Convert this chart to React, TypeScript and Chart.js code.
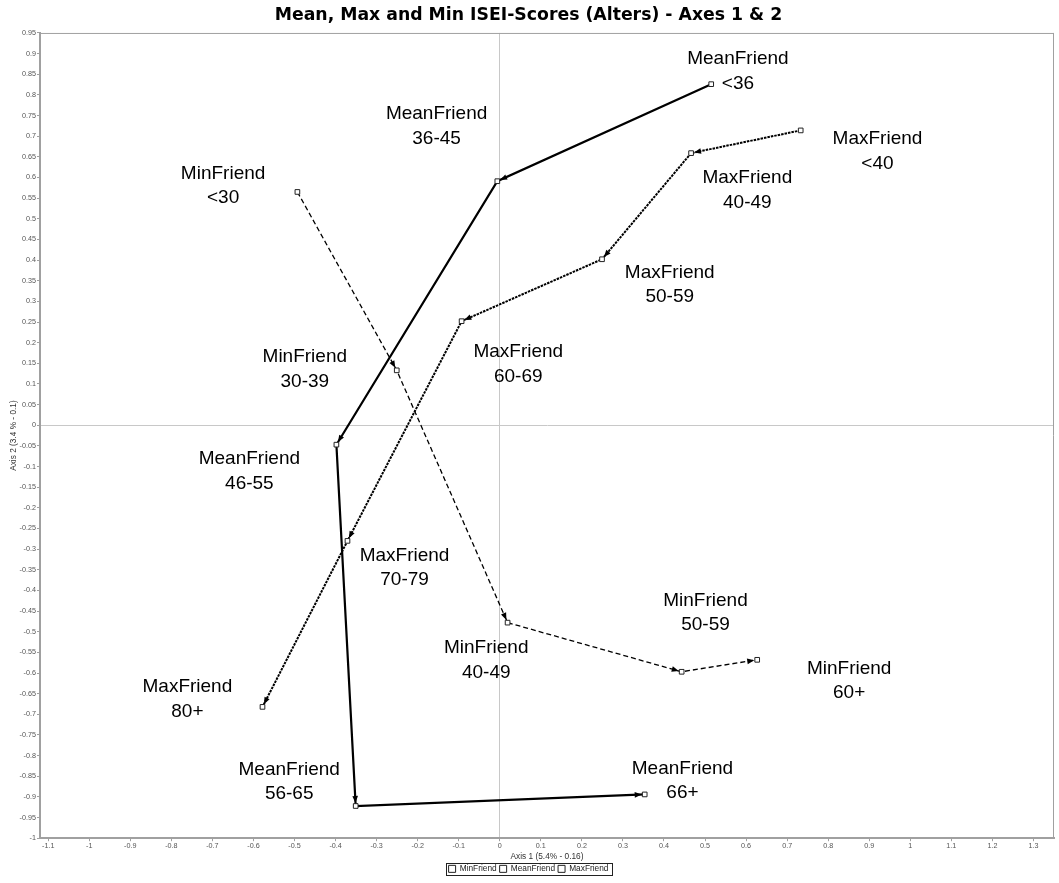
import React, { useEffect, useRef } from 'react';
import { Chart, registerables } from 'chart.js';

Chart.register(...registerables);

const TITLE = 'Mean, Max and Min ISEI-Scores (Alters) - Axes 1 & 2';
const X_TITLE = 'Axis 1 (5.4% - 0.16)';
const Y_TITLE = 'Axis 2 (3.4 % - 0.1)';

const SERIES = ['MinFriend', 'MeanFriend', 'MaxFriend'];

const MIN_CATEGORIES = ['<30', '30-39', '40-49', '50-59', '60+'];
const MIN_X = [-0.493, -0.251, 0.019, 0.443, 0.627];
const MIN_Y = [0.565, 0.133, -0.478, -0.597, -0.568];

const MEAN_CATEGORIES = ['<36', '36-45', '46-55', '56-65', '66+'];
const MEAN_X = [0.515, -0.006, -0.398, -0.351, 0.353];
const MEAN_Y = [0.826, 0.591, -0.047, -0.922, -0.894];

const MAX_CATEGORIES = ['<40', '40-49', '50-59', '60-69', '70-79', '80+'];
const MAX_X = [0.733, 0.466, 0.249, -0.093, -0.371, -0.578];
const MAX_Y = [0.714, 0.659, 0.402, 0.252, -0.28, -0.682];

// where each point's two-line label sits (data coordinates of the label centre)
const MIN_LABEL_POS = [[-0.674, 0.58], [-0.475, 0.135], [-0.033, -0.569], [0.501, -0.454], [0.851, -0.619]];
const MEAN_LABEL_POS = [[0.58, 0.857], [-0.154, 0.724], [-0.61, -0.112], [-0.513, -0.863], [0.445, -0.861]];
const MAX_LABEL_POS = [[0.92, 0.663], [0.603, 0.569], [0.414, 0.34], [0.045, 0.148], [-0.232, -0.345], [-0.761, -0.663]];

const X_TICKS = [-1.1, -1, -0.9, -0.8, -0.7, -0.6, -0.5, -0.4, -0.3, -0.2, -0.1, 0, 0.1, 0.2, 0.3, 0.4, 0.5, 0.6, 0.7, 0.8, 0.9, 1, 1.1, 1.2, 1.3];
const X_MIN = -1.12;
const X_MAX = 1.35;
const Y_MIN = -1;
const Y_MAX = 0.95;
const Y_STEP = 0.05;

const GROUPS = [
  { name: SERIES[0], cats: MIN_CATEGORIES, xs: MIN_X, ys: MIN_Y, labelPos: MIN_LABEL_POS, dash: [5, 3], width: 1.3 },
  { name: SERIES[1], cats: MEAN_CATEGORIES, xs: MEAN_X, ys: MEAN_Y, labelPos: MEAN_LABEL_POS, dash: [], width: 2.2 },
  { name: SERIES[2], cats: MAX_CATEGORIES, xs: MAX_X, ys: MAX_Y, labelPos: MAX_LABEL_POS, dash: [2.5, 1], width: 2 },
];

const FONT = '"Liberation Sans", Arial, sans-serif';
const AXIS_GREY = '#a0a0a0';

const fmt = (v: number) => String(Math.round(v * 100) / 100);

const arrowPlugin = {
  id: 'arrows',
  afterDatasetsDraw(chart: any) {
    const { ctx } = chart;
    ctx.save();
    ctx.fillStyle = '#000';
    chart.data.datasets.forEach((_: any, di: number) => {
      const meta = chart.getDatasetMeta(di);
      const pts = meta.data;
      for (let i = 1; i < pts.length; i++) {
        const a = pts[i - 1];
        const b = pts[i];
        const ang = Math.atan2(b.y - a.y, b.x - a.x);
        const tipX = b.x - Math.cos(ang) * 3;
        const tipY = b.y - Math.sin(ang) * 3;
        const len = 7;
        const half = 2.8;
        const bx = tipX - Math.cos(ang) * len;
        const by = tipY - Math.sin(ang) * len;
        ctx.beginPath();
        ctx.moveTo(tipX, tipY);
        ctx.lineTo(bx - Math.sin(ang) * half, by + Math.cos(ang) * half);
        ctx.lineTo(bx + Math.sin(ang) * half, by - Math.cos(ang) * half);
        ctx.closePath();
        ctx.fill();
      }
    });
    ctx.restore();
  },
};

const labelPlugin = {
  id: 'pointLabels',
  afterDatasetsDraw(chart: any) {
    const { ctx } = chart;
    const xs = chart.scales.x;
    const ys = chart.scales.y;
    ctx.save();
    ctx.font = `19px ${FONT}`;
    ctx.fillStyle = '#000';
    ctx.textAlign = 'center';
    ctx.textBaseline = 'middle';
    GROUPS.forEach((g) => {
      g.cats.forEach((c, i) => {
        const px = xs.getPixelForValue(g.labelPos[i][0]);
        const py = ys.getPixelForValue(g.labelPos[i][1]);
        ctx.fillText(g.name, px, py - 12.3);
        ctx.fillText(c, px, py + 12.3);
      });
    });
    ctx.restore();
  },
};

const framePlugin = {
  id: 'frame',
  afterDraw(chart: any) {
    const { ctx, chartArea } = chart;
    ctx.save();
    ctx.strokeStyle = AXIS_GREY;
    ctx.lineWidth = 1;
    ctx.beginPath();
    ctx.moveTo(chartArea.left, chartArea.top + 0.5);
    ctx.lineTo(chartArea.right, chartArea.top + 0.5);
    ctx.moveTo(chartArea.right - 0.5, chartArea.top);
    ctx.lineTo(chartArea.right - 0.5, chartArea.bottom);
    ctx.stroke();
    const lg = chart.legend;
    if (lg && lg.legendHitBoxes && lg.legendHitBoxes.length) {
      const hb = lg.legendHitBoxes;
      const l = Math.min(...hb.map((h: any) => h.left));
      const r = Math.max(...hb.map((h: any) => h.left + h.width));
      const t = Math.min(...hb.map((h: any) => h.top));
      const b = Math.max(...hb.map((h: any) => h.top + h.height));
      ctx.strokeStyle = '#222';
      ctx.lineWidth = 1;
      ctx.strokeRect(Math.round(l - 3) + 0.5, Math.round(t - 2) + 0.5, Math.round(r - l + 6), Math.round(b - t + 4));
    }
    ctx.restore();
  },
};

export default function App() {
  const ref = useRef<HTMLCanvasElement | null>(null);

  useEffect(() => {
    document.body.style.margin = '0';
    const canvas = ref.current;
    if (!canvas) return;
    const chart = new Chart(canvas, {
      type: 'scatter',
      data: {
        datasets: GROUPS.map((g) => ({
          label: g.name,
          data: g.xs.map((x, i) => ({ x, y: g.ys[i] })),
          showLine: true,
          borderColor: '#000',
          borderWidth: g.width,
          borderDash: g.dash,
          backgroundColor: '#fff',
          pointStyle: 'rect',
          pointRadius: 3.3,
          pointBorderColor: '#222',
          pointBorderWidth: 1,
          pointBackgroundColor: '#fff',
          tension: 0,
        })),
      },
      options: {
        responsive: false,
        animation: false,
        devicePixelRatio: 1,
        layout: { padding: { left: 0, right: 2, top: 0, bottom: 0 } },
        plugins: {
          title: {
            display: true,
            text: TITLE,
            color: '#000',
            font: { family: '"DejaVu Sans", sans-serif', size: 17.3, weight: 'bold' },
            padding: { top: 5, bottom: 7.2 },
          },
          legend: {
            display: true,
            position: 'bottom',
            labels: {
              color: '#222',
              font: { family: FONT, size: 8.3 },
              boxWidth: 7,
              boxHeight: 7,
              padding: 3,
              generateLabels: (c: any) =>
                Chart.defaults.plugins.legend.labels.generateLabels(c).map((l: any) => ({
                  ...l,
                  fillStyle: '#fff',
                  strokeStyle: '#222',
                  lineWidth: 1,
                  lineDash: [],
                })),
            },
          },
          tooltip: { enabled: false },
        },
        scales: {
          x: {
            type: 'linear',
            position: 'bottom',
            min: X_MIN,
            max: X_MAX,
            afterBuildTicks: (s: any) => {
              s.ticks = X_TICKS.map((v) => ({ value: v }));
            },
            afterFit: (s: any) => {
              s.height = 23.5;
              s.paddingLeft = 0;
              s.paddingRight = 0;
            },
            ticks: {
              autoSkip: false,
              maxRotation: 0,
              color: '#555',
              font: { family: FONT, size: 7.2 },
              padding: 1,
              callback: (v: any) => fmt(Number(v)),
            },
            grid: {
              color: (c: any) => (c.tick && Math.abs(c.tick.value) < 1e-9 ? '#c8c8c8' : 'rgba(0,0,0,0)'),
              tickColor: AXIS_GREY,
              tickLength: 3,
              lineWidth: 1,
            },
            border: { color: AXIS_GREY, width: 2 },
            title: {
              display: true,
              text: X_TITLE,
              color: '#333',
              font: { family: FONT, size: 8.3 },
              padding: { top: 0, bottom: 0 },
            },
          },
          y: {
            type: 'linear',
            min: Y_MIN,
            max: Y_MAX,
            afterFit: (s: any) => {
              s.width = 40;
              s.paddingTop = 0;
              s.paddingBottom = 0;
            },
            ticks: {
              stepSize: Y_STEP,
              autoSkip: false,
              color: '#555',
              font: { family: FONT, size: 7.2 },
              padding: 1,
              callback: (v: any) => fmt(Number(v)),
            },
            grid: {
              color: (c: any) => (c.tick && Math.abs(c.tick.value) < 1e-9 ? '#c8c8c8' : 'rgba(0,0,0,0)'),
              tickColor: AXIS_GREY,
              tickLength: 3,
              lineWidth: 1,
            },
            border: { color: AXIS_GREY, width: 2 },
            title: {
              display: true,
              text: Y_TITLE,
              color: '#333',
              font: { family: FONT, size: 8.3 },
              padding: { top: 9, bottom: 0 },
            },
          },
        },
      },
      plugins: [arrowPlugin, labelPlugin, framePlugin],
    } as any);
    return () => chart.destroy();
  }, []);

  return (
    <div style={{ position: 'absolute', left: 0, top: 0, width: 1059, height: 883, background: '#fff' }}>
      <canvas ref={ref} width={1059} height={883} />
    </div>
  );
}
